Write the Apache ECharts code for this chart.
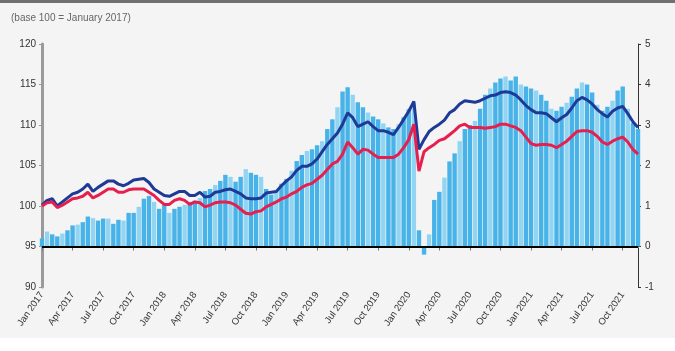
<!DOCTYPE html>
<html>
<head>
<meta charset="utf-8">
<script src="https://cdn.jsdelivr.net/npm/echarts@6/dist/echarts.min.js"></script>
<style>
  html, body { margin: 0; padding: 0; background: #f4f4f4; }
  #main { width: 675px; height: 351px; }
</style>
</head>
<body>
<div id="main"></div>
<script>
// semi-monthly points, 1st and 16th of each month, Jan 2017 .. mid Nov 2021
const startYear = 2017
const pointCount = 118
const monthNames = ['Jan', 'Feb', 'Mar', 'Apr', 'May', 'Jun', 'Jul', 'Aug', 'Sep', 'Oct', 'Nov', 'Dec']

const dates = []
for (let i = 0; i < pointCount; i++) {
  const m = Math.floor(i / 2)
  const y = startYear + Math.floor(m / 12)
  const mm = String(m % 12 + 1).padStart(2, '0')
  dates.push(y + '-' + mm + '-' + (i % 2 === 0 ? '01' : '16'))
}

const leftTicks = [90, 95, 100, 105, 110, 115, 120]
const rightTicks = [-1, 0, 1, 2, 3, 4, 5]

// index, base 100 (left axis)
const blueLine = [
  100.1, 100.7, 100.9, 100.0, 100.5, 101.0, 101.5, 101.7, 102.1, 102.7,
  101.8, 102.3, 102.7, 103.1, 103.1, 102.7, 102.5, 102.8, 103.2, 103.3,
  103.4, 102.9, 102.1, 101.7, 101.3, 101.2, 101.5, 101.8, 101.8, 101.3,
  101.3, 101.7, 101.1, 101.2, 101.7, 101.8, 102.0, 102.1, 101.8, 101.5,
  101.0, 100.9, 100.9, 101.0, 101.6, 101.7, 101.8, 102.5, 103.1, 103.6,
  104.4, 104.9, 104.9, 105.2, 105.8, 106.7, 107.6, 108.3, 109.0, 110.1,
  111.5, 110.9, 109.8, 110.1, 110.4, 109.8, 109.3, 109.3, 109.1, 108.8,
  109.7, 110.7, 111.7, 112.9, 107.0, 108.2, 109.2, 109.7, 110.1, 110.6,
  111.5, 111.9, 112.6, 113.0, 112.9, 112.8, 113.0, 113.3, 113.6, 113.7,
  114.0, 114.1, 114.0, 113.7, 113.1, 112.4, 111.9, 111.5, 111.5, 111.4,
  110.9, 110.4, 110.9, 111.3, 112.1, 113.0, 113.4, 113.1, 112.6, 111.9,
  111.4, 111.0, 111.7, 112.1, 112.3, 111.4, 110.4, 109.7
]

const redLine = [
  100.0, 100.4, 100.5, 99.8, 100.1, 100.5, 100.9, 101.0, 101.2, 101.7,
  101.0, 101.3, 101.7, 102.1, 102.1, 101.7, 101.7, 102.0, 102.1, 102.1,
  102.1, 101.7, 101.3, 100.7, 100.2, 100.2, 100.7, 100.9, 100.7, 100.2,
  100.5, 100.4, 99.9, 100.1, 100.4, 100.5, 100.5, 100.4, 100.1, 99.6,
  99.1, 99.0, 99.3, 99.4, 99.9, 100.2, 100.5, 100.9, 101.1, 101.5,
  101.8, 102.3, 102.6, 102.8, 103.3, 103.8, 104.5, 105.2, 105.5, 106.4,
  107.9, 107.2, 106.4, 107.0, 106.9, 106.4, 106.0, 106.0, 106.0, 106.0,
  106.4, 107.2, 108.2, 110.1, 104.3, 106.7, 107.2, 107.6, 108.1, 108.3,
  108.8, 109.3, 109.9, 110.1, 109.7, 109.7, 109.7, 109.6, 109.7, 109.8,
  110.1, 110.1, 109.9, 109.7, 109.3, 108.5, 107.7, 107.5, 107.6, 107.6,
  107.5, 107.2, 107.6, 108.0, 108.6, 109.2, 109.3, 109.3, 109.1, 108.6,
  107.9, 107.6, 108.0, 108.3, 108.5, 107.9, 107.0, 106.4
]

// spread (right axis)
const spreadBars = [
  0.20, 0.37, 0.30, 0.25, 0.32, 0.40, 0.52, 0.54, 0.60, 0.74,
  0.70, 0.64, 0.69, 0.69, 0.56, 0.66, 0.64, 0.83, 0.83, 0.98,
  1.18, 1.25, 1.10, 0.93, 1.03, 0.83, 0.93, 0.98, 1.03, 1.10,
  1.13, 1.20, 1.37, 1.42, 1.52, 1.62, 1.77, 1.72, 1.60, 1.72,
  1.91, 1.82, 1.77, 1.72, 1.42, 1.28, 1.37, 1.55, 1.67, 1.87,
  2.11, 2.26, 2.36, 2.40, 2.50, 2.60, 2.90, 3.14, 3.44, 3.83,
  3.93, 3.75, 3.56, 3.44, 3.31, 3.21, 3.14, 3.04, 2.94, 2.90,
  3.02, 3.19, 3.39, 3.53, 0.40, -0.20, 0.30, 1.15, 1.35, 1.70,
  2.10, 2.30, 2.60, 2.90, 3.00, 3.10, 3.40, 3.75, 3.90, 4.05,
  4.15, 4.20, 4.10, 4.20, 4.00, 3.95, 3.90, 3.85, 3.75, 3.60,
  3.40, 3.35, 3.45, 3.55, 3.70, 3.90, 4.05, 4.00, 3.80, 3.50,
  3.35, 3.45, 3.60, 3.85, 3.95, 3.40, 3.05, 2.90
]

function isQuarterStart(index) {
  const d = dates[index]
  return d.slice(8) === '01' && ['01', '04', '07', '10'].indexOf(d.slice(5, 7)) > -1
}

const chart = echarts.init(document.getElementById('main'))
chart.setOption({
  backgroundColor: '#f4f4f4',
  animation: false,
  textStyle: { fontFamily: 'Liberation Sans, Arial, sans-serif' },
  title: {
    text: '(base 100 = January 2017)',
    left: 6,
    top: 8,
    textStyle: { fontSize: 10, fontWeight: 'normal', color: '#666' }
  },
  graphic: [
    { type: 'rect', left: 0, top: 0, shape: { width: 675, height: 3 }, style: { fill: '#707070' } },
    { type: 'rect', left: 0, top: 338, shape: { width: 675, height: 13 }, style: { fill: '#ffffff' } }
  ],
  grid: { left: 42, right: 37, top: 44, bottom: 64 },
  xAxis: {
    type: 'category',
    data: dates,
    boundaryGap: false,
    axisLine: { lineStyle: { color: '#9a9a9a', width: 2 } },
    axisTick: {
      interval: isQuarterStart,
      length: 4,
      lineStyle: { color: '#777' }
    },
    axisLabel: {
      interval: isQuarterStart,
      rotate: 55,
      fontSize: 9.5,
      color: '#333',
      margin: 6,
      formatter: function (v) {
        return monthNames[Number(v.slice(5, 7)) - 1] + ' ' + v.slice(0, 4)
      }
    },
    splitLine: { show: false }
  },
  yAxis: [
    {
      type: 'value',
      min: leftTicks[0],
      max: leftTicks[leftTicks.length - 1],
      interval: 5,
      axisLine: { show: true, lineStyle: { color: '#9a9a9a', width: 3 } },
      axisTick: { show: true, length: 3, lineStyle: { color: '#999' } },
      axisLabel: { fontSize: 10, color: '#333', margin: 6 },
      splitLine: { show: false }
    },
    {
      type: 'value',
      min: rightTicks[0],
      max: rightTicks[rightTicks.length - 1],
      interval: 1,
      position: 'right',
      axisLine: { show: true, lineStyle: { color: '#333', width: 1 } },
      axisTick: { show: true, length: 3, lineStyle: { color: '#333' } },
      axisLabel: { fontSize: 10, color: '#333', margin: 7 },
      splitLine: { show: false }
    }
  ],
  series: [
    {
      name: 'spread',
      type: 'bar',
      yAxisIndex: 1,
      data: spreadBars,
      barCategoryGap: '14%',
      itemStyle: {
        color: function (p) {
          return p.dataIndex % 3 === 1 ? '#92d5f3' : '#47b3e8'
        }
      },
      markLine: {
        silent: true,
        symbol: 'none',
        label: { show: false },
        lineStyle: { color: '#000', width: 2, type: 'solid' },
        data: [{ yAxis: 0 }]
      },
      z: 1
    },
    {
      name: 'blue',
      type: 'line',
      data: blueLine,
      showSymbol: false,
      lineStyle: { color: '#1f3a96', width: 3 },
      itemStyle: { color: '#1f3a96' },
      z: 3
    },
    {
      name: 'red',
      type: 'line',
      data: redLine,
      showSymbol: false,
      lineStyle: { color: '#e5204f', width: 3 },
      itemStyle: { color: '#e5204f' },
      z: 4
    }
  ]
})
</script>
</body>
</html>
